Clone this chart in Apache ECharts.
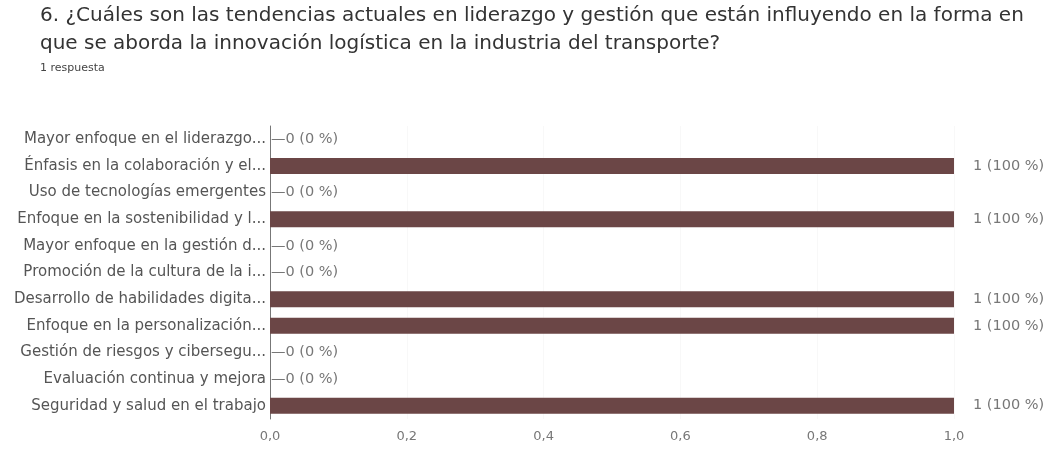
<!DOCTYPE html>
<html>
<head>
<meta charset="utf-8">
<script src="https://cdn.jsdelivr.net/npm/echarts@6/dist/echarts.min.js"></script>
<style>
  html, body { margin: 0; padding: 0; background: #fff; }
  #chart { width: 1050px; height: 450px; }
</style>
</head>
<body>
<div id="chart"></div>
<script>
var categories = [
  'Mayor enfoque en el liderazgo...',
  'Énfasis en la colaboración y el...',
  'Uso de tecnologías emergentes',
  'Enfoque en la sostenibilidad y l...',
  'Mayor enfoque en la gestión d...',
  'Promoción de la cultura de la i...',
  'Desarrollo de habilidades digita...',
  'Enfoque en la personalización...',
  'Gestión de riesgos y cibersegu...',
  'Evaluación continua y mejora',
  'Seguridad y salud en el trabajo'
];
var counts = [0, 1, 0, 1, 0, 0, 1, 1, 0, 0, 1];
var percents = [0, 100, 0, 100, 0, 0, 100, 100, 0, 0, 100];
var xTicks = ['0,0', '0,2', '0,4', '0,6', '0,8', '1,0'];

var chart = echarts.init(document.getElementById('chart'));

// cada barra con su etiqueta: ceros pegados al eje con guion
var barData = counts.map(function (c, i) {
  var t = c + ' (' + percents[i] + ' %)';
  return {
    value: c,
    label: c === 0
      ? { formatter: '—' + t, distance: 1 }
      : { formatter: t, distance: 19 }
  };
});

var option = {
  backgroundColor: '#fff',
  animation: false,
  graphic: [
    { type: 'text', left: 40, top: 6,
      style: { text: '6. ¿Cuáles son las tendencias actuales en liderazgo y gestión que están influyendo en la forma en',
               fontFamily: 'DejaVu Sans', fontSize: 20, fill: '#333' } },
    { type: 'text', left: 40, top: 34,
      style: { text: 'que se aborda la innovación logística en la industria del transporte?',
               fontFamily: 'DejaVu Sans', fontSize: 20, fill: '#333' } },
    { type: 'text', left: 40, top: 63,
      style: { text: '1 respuesta', fontFamily: 'DejaVu Sans', fontSize: 11, fill: '#444' } }
  ],
  grid: { left: 270, right: 96, top: 126, bottom: 31 },
  xAxis: {
    type: 'value',
    min: 0, max: 1, interval: 0.2,
    axisLine: { show: false },
    axisTick: { show: false },
    splitLine: { show: true, lineStyle: { color: '#f8f8f8' } },
    axisLabel: {
      color: '#777', fontFamily: 'DejaVu Sans', fontSize: 13, margin: 11,
      formatter: function (v) { return xTicks[Math.round(v * 5)]; }
    }
  },
  yAxis: {
    type: 'category',
    inverse: true,
    data: categories,
    axisLine: { show: true, lineStyle: { color: '#777', width: 1 } },
    axisTick: { show: false },
    axisLabel: { color: '#555', fontFamily: 'DejaVu Sans', fontSize: 15, margin: 4 }
  },
  series: [{
    type: 'bar',
    data: barData,
    barWidth: 16,
    itemStyle: { color: '#6b4646' },
    label: {
      show: true,
      position: 'right',
      color: '#777',
      fontFamily: 'DejaVu Sans',
      fontSize: 14.5
    }
  }]
};
chart.setOption(option);
</script>
</body>
</html>
